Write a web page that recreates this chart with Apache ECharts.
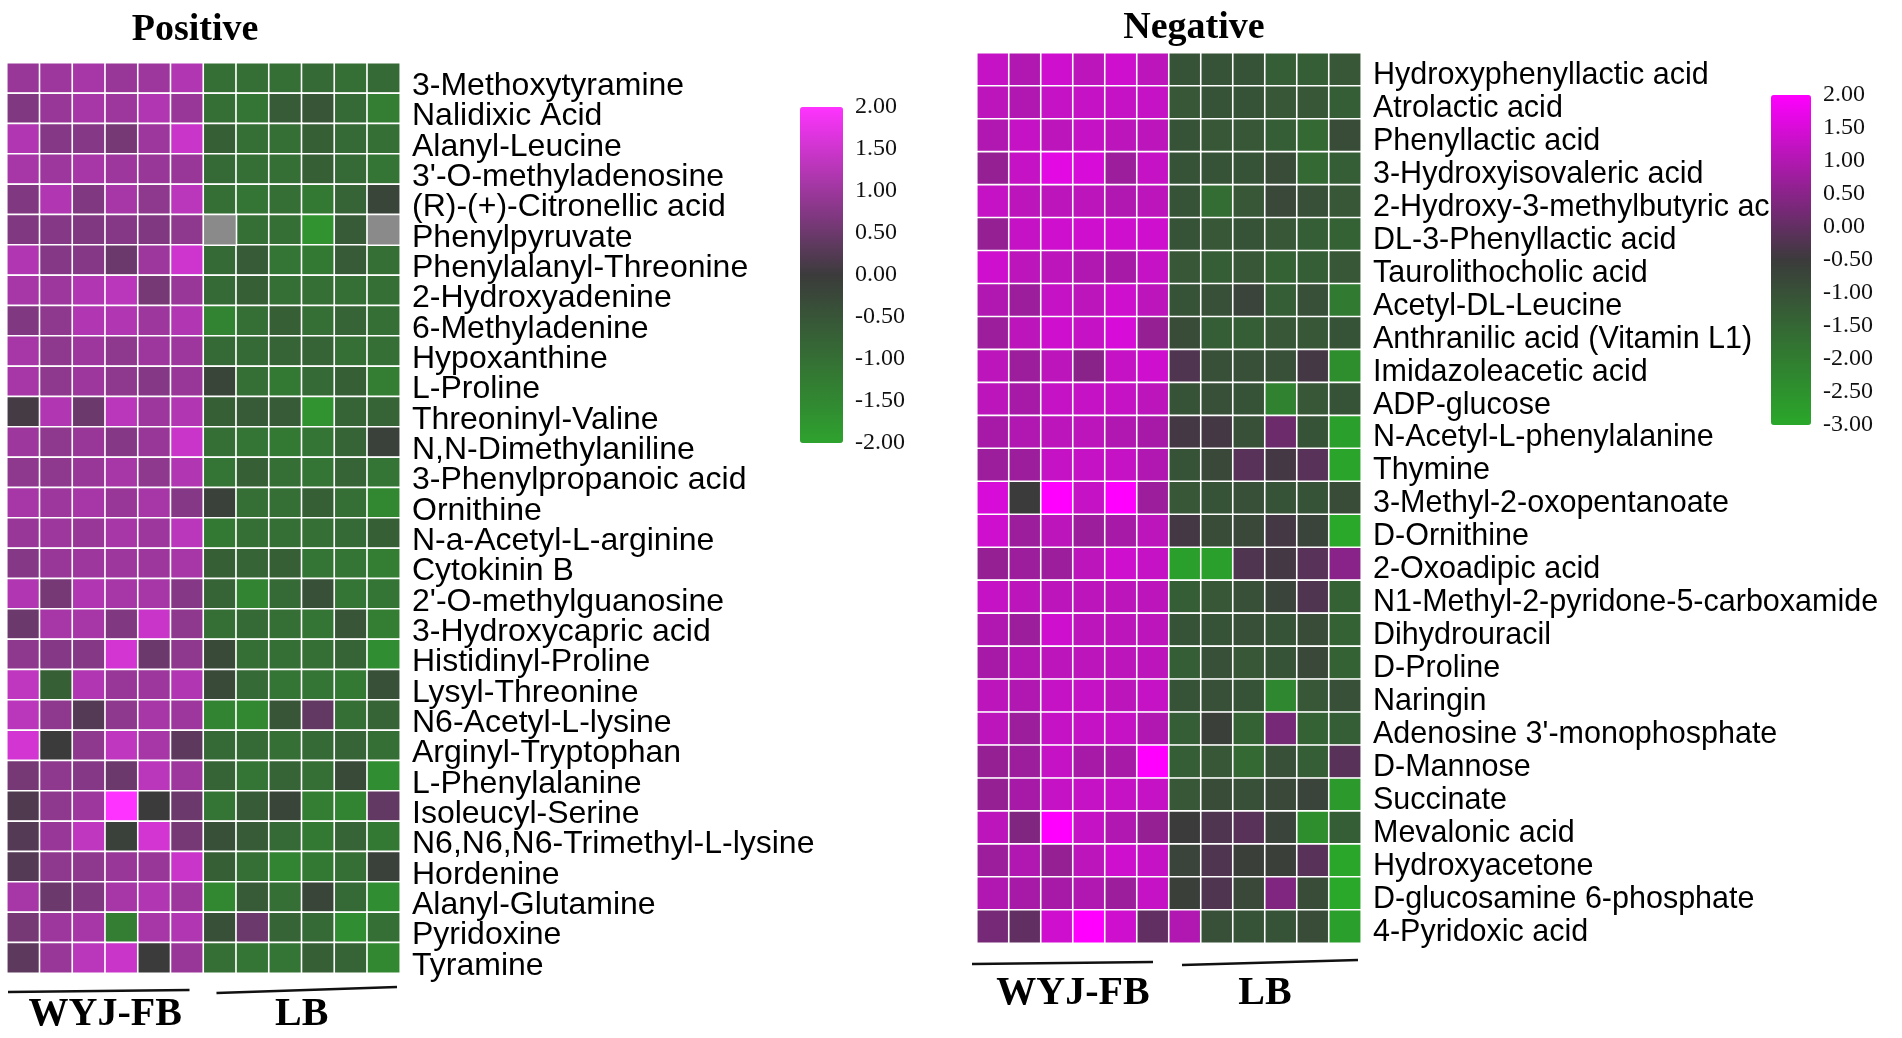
<!DOCTYPE html>
<html><head><meta charset="utf-8">
<script src="https://cdn.jsdelivr.net/npm/echarts@6/dist/echarts.min.js"></script>
<style>html,body{margin:0;padding:0;background:#fff}#c{width:1902px;height:1038px}</style>
</head><body><div id="c"></div>
<script>
// ---------- DATA ----------
const samples = ['WYJ-FB-1','WYJ-FB-2','WYJ-FB-3','WYJ-FB-4','WYJ-FB-5','WYJ-FB-6','LB-1','LB-2','LB-3','LB-4','LB-5','LB-6'];
const groups = ['WYJ-FB','LB'];

const posNames = ['3-Methoxytyramine','Nalidixic Acid','Alanyl-Leucine',"3'-O-methyladenosine",'(R)-(+)-Citronellic acid','Phenylpyruvate','Phenylalanyl-Threonine','2-Hydroxyadenine','6-Methyladenine','Hypoxanthine','L-Proline','Threoninyl-Valine','N,N-Dimethylaniline','3-Phenylpropanoic acid','Ornithine','N-a-Acetyl-L-arginine','Cytokinin B',"2'-O-methylguanosine",'3-Hydroxycapric acid','Histidinyl-Proline','Lysyl-Threonine','N6-Acetyl-L-lysine','Arginyl-Tryptophan','L-Phenylalanine','Isoleucyl-Serine','N6,N6,N6-Trimethyl-L-lysine','Hordenine','Alanyl-Glutamine','Pyridoxine','Tyramine'];

// null = missing value (drawn grey)
const posValues = [
 [0.95,1.0,1.1,0.95,1.0,1.2,-1.0,-1.0,-1.0,-0.9,-1.0,-0.9],
 [0.7,0.95,1.1,1.0,1.2,0.95,-1.0,-1.1,-0.6,-0.5,-0.9,-1.3],
 [1.2,0.75,0.75,0.6,1.0,1.45,-0.7,-1.0,-1.0,-0.7,-0.9,-1.0],
 [1.1,1.0,1.1,1.0,0.95,0.95,-0.9,-1.0,-1.0,-0.7,-0.9,-1.1],
 [0.7,1.2,0.7,1.1,0.85,1.3,-1.0,-1.1,-1.0,-1.2,-0.8,-0.2],
 [0.7,0.75,0.7,0.75,0.7,0.85,null,-1.0,-1.0,-1.7,-0.6,null],
 [1.2,0.75,0.75,0.5,1.0,1.5,-0.9,-0.6,-1.1,-1.2,-0.6,-1.0],
 [1.1,1.0,1.2,1.3,0.6,0.95,-0.9,-0.7,-1.0,-1.0,-1.0,-1.0],
 [0.7,0.85,1.2,1.2,1.0,1.2,-1.4,-1.0,-0.7,-1.0,-0.8,-1.0],
 [1.1,0.85,1.0,0.85,1.0,1.0,-0.9,-0.9,-0.8,-0.8,-1.0,-1.0],
 [1.1,0.85,1.0,0.85,0.75,0.95,-0.2,-1.0,-1.2,-0.9,-0.7,-1.3],
 [0.1,1.2,0.5,1.3,1.0,1.2,-0.7,-0.6,-0.6,-1.7,-0.8,-0.8],
 [1.0,0.85,0.95,0.75,0.95,1.45,-1.0,-1.1,-1.2,-1.1,-0.8,-0.1],
 [0.85,0.85,0.95,1.1,0.85,1.2,-1.1,-0.7,-1.0,-1.1,-0.8,-1.1],
 [1.1,1.0,1.1,0.95,1.1,0.75,-0.1,-1.0,-1.0,-0.7,-1.0,-1.5],
 [0.95,1.0,0.95,1.1,1.0,1.3,-1.2,-1.0,-1.0,-1.0,-0.9,-0.7],
 [0.75,0.95,1.0,1.0,1.0,1.1,-0.7,-0.8,-0.7,-1.1,-1.1,-1.3],
 [1.2,0.6,1.2,1.1,1.1,0.75,-0.8,-1.4,-0.9,-0.4,-1.1,-1.1],
 [0.5,1.1,1.1,0.7,1.45,0.85,-1.0,-0.9,-1.0,-1.1,-0.5,-1.3],
 [0.85,0.75,0.75,1.55,0.5,0.85,-0.3,-1.0,-1.0,-1.0,-0.8,-1.6],
 [1.35,-0.7,1.2,0.95,1.0,1.2,-0.3,-0.9,-1.1,-1.1,-1.2,-0.4],
 [1.3,0.85,0.25,0.85,1.1,1.0,-1.4,-1.5,-0.5,0.4,-1.0,-0.8],
 [1.55,0.0,0.85,1.35,1.1,0.35,-0.9,-0.9,-1.0,-0.9,-0.8,-1.0],
 [0.6,0.85,0.75,0.5,1.3,1.0,-0.8,-1.1,-0.8,-1.0,-0.3,-1.6],
 [0.2,0.85,1.0,2.0,0.0,0.5,-1.1,-0.6,-0.2,-1.3,-1.4,0.4],
 [0.25,0.95,1.35,-0.1,1.55,0.6,-0.4,-0.6,-0.9,-1.2,-0.8,-1.2],
 [0.25,0.85,0.85,0.95,0.95,1.45,-0.7,-1.0,-1.4,-1.2,-1.0,-0.1],
 [1.1,0.5,0.7,1.1,1.2,1.0,-1.5,-0.6,-1.0,-0.2,-0.9,-1.6],
 [0.6,1.0,1.1,-1.3,1.1,1.2,-0.4,0.5,-0.8,-0.9,-1.6,-1.0],
 [0.35,0.95,1.3,1.45,0.0,0.95,-1.0,-1.1,-1.1,-0.7,-0.8,-1.5]
];

const negNames = ['Hydroxyphenyllactic acid','Atrolactic acid','Phenyllactic acid','3-Hydroxyisovaleric acid','2-Hydroxy-3-methylbutyric acid','DL-3-Phenyllactic acid','Taurolithocholic acid','Acetyl-DL-Leucine','Anthranilic acid (Vitamin L1)','Imidazoleacetic acid','ADP-glucose','N-Acetyl-L-phenylalanine','Thymine','3-Methyl-2-oxopentanoate','D-Ornithine','2-Oxoadipic acid','N1-Methyl-2-pyridone-5-carboxamide','Dihydrouracil','D-Proline','Naringin',"Adenosine 3'-monophosphate",'D-Mannose','Succinate','Mevalonic acid','Hydroxyacetone','D-glucosamine 6-phosphate','4-Pyridoxic acid'];

const negValues = [
 [1.25,1.0,1.38,1.13,1.38,1.13,-1.05,-1.05,-1.05,-1.3,-1.3,-1.15],
 [1.13,1.0,1.25,1.25,1.25,1.25,-1.15,-1.05,-1.05,-1.15,-1.15,-1.3],
 [1.0,1.25,1.13,1.25,1.13,1.13,-1.05,-1.15,-1.15,-1.3,-1.55,-0.9],
 [0.63,1.25,1.63,1.5,0.75,1.25,-1.05,-1.05,-1.05,-0.9,-1.55,-1.3],
 [1.25,1.13,1.13,1.13,1.0,1.13,-1.05,-1.65,-1.15,-0.8,-0.95,-1.15],
 [0.63,1.25,1.38,1.38,1.38,1.38,-1.05,-1.15,-1.05,-1.15,-1.3,-1.4],
 [1.38,1.13,1.13,1.0,0.88,1.25,-1.15,-1.3,-1.15,-1.4,-1.3,-1.15],
 [1.0,0.75,1.25,1.13,1.38,1.13,-1.05,-0.95,-0.7,-1.3,-0.95,-1.95],
 [0.75,1.13,1.38,1.25,1.5,0.63,-0.9,-1.3,-1.3,-1.15,-1.15,-1.05],
 [1.13,0.75,1.13,0.5,1.25,1.38,-0.25,-0.95,-0.95,-0.95,-0.38,-2.4],
 [1.13,0.88,1.25,1.25,1.25,1.13,-1.05,-0.95,-1.05,-2.1,-1.15,-1.05],
 [0.88,1.0,1.13,1.13,1.0,0.88,-0.38,-0.38,-0.95,0.13,-1.05,-2.8],
 [0.75,0.75,1.25,1.25,1.25,1.0,-1.05,-0.8,-0.13,-0.38,-0.13,-2.9],
 [1.5,-0.5,2.0,1.25,2.0,0.75,-1.15,-1.05,-0.95,-1.05,-1.05,-0.9],
 [1.38,0.75,1.13,0.75,0.88,1.13,-0.38,-0.9,-0.8,-0.38,-0.7,-3.0],
 [0.63,0.75,0.75,1.13,1.38,1.25,-2.8,-2.8,-0.25,-0.38,-0.13,0.5],
 [1.25,1.13,1.13,1.13,1.13,1.13,-1.3,-1.15,-0.95,-0.7,-0.25,-1.4],
 [1.0,0.75,1.38,1.13,1.13,1.13,-1.05,-1.05,-0.95,-1.05,-0.9,-1.4],
 [0.88,1.0,1.13,1.13,1.13,1.13,-1.3,-0.95,-1.15,-1.05,-0.8,-1.4],
 [1.13,1.0,1.25,1.25,1.13,1.25,-1.05,-0.95,-1.05,-2.25,-1.15,-0.95],
 [1.13,0.75,1.25,1.25,1.25,1.0,-1.3,-0.6,-1.4,0.25,-1.4,-1.3],
 [0.63,0.75,1.25,0.88,0.88,2.0,-1.3,-1.15,-1.55,-0.95,-1.3,-0.13],
 [0.63,0.88,1.25,1.25,1.25,1.25,-1.15,-0.9,-0.95,-0.8,-0.7,-2.65],
 [1.13,0.38,2.0,1.25,1.0,0.63,-0.5,-0.25,-0.13,-0.7,-2.4,-1.3],
 [0.75,1.0,0.63,1.13,1.38,1.25,-0.7,-0.25,-0.6,-0.6,-0.13,-2.95],
 [1.0,0.88,0.88,1.0,0.75,1.25,-0.6,-0.25,-0.8,0.38,-0.9,-3.0],
 [0.25,0.0,1.38,2.0,1.38,0.0,1.0,-0.95,-1.05,-1.05,-0.9,-2.8]
];

const posRange = [-2, 2];
const negRange = [-3, 2];
const legendStep = 0.5;

// ---------- BUILD ----------
function cells(values) {
  const ok = [], miss = [];
  values.forEach((row, r) => row.forEach((v, c) => {
    if (v === null) miss.push([c, r, 0]); else ok.push([c, r, v]);
  }));
  return { ok, miss };
}
const pos = cells(posValues);
const neg = cells(negValues);

// layout
const G0 = { left: 7, top: 63, width: 393, height: 910 };
const G1 = { left: 977, top: 53, width: 384, height: 890 };
const L0 = { left: 800, top: 107, width: 43, height: 336 };
const L1 = { left: 1771, top: 95, width: 40, height: 330 };

const sans = 'Liberation Sans, Arial, sans-serif';
const serif = 'Liberation Serif, Times New Roman, serif';

const chart = echarts.init(document.getElementById('c'), null, { renderer: 'canvas' });

function hiddenAxis(type, gi, data) {
  const a = { type, gridIndex: gi, show: false };
  if (data) a.data = data;
  return a;
}

const option = {
  backgroundColor: '#ffffff',
  animation: false,
  title: [
    { text: 'Positive', left: 195, top: 11, textAlign: 'center', padding: 0,
      textStyle: { fontFamily: serif, fontWeight: 'bold', fontSize: 38, color: '#000' } },
    { text: 'Negative', left: 1194, top: 9, textAlign: 'center', padding: 0,
      textStyle: { fontFamily: serif, fontWeight: 'bold', fontSize: 38, color: '#000' } }
  ],
  grid: [
    Object.assign({}, G0), Object.assign({}, G1),
    Object.assign({}, L0), Object.assign({}, L1)
  ],
  xAxis: [
    hiddenAxis('category', 0, samples),
    hiddenAxis('category', 1, samples),
    { type: 'category', gridIndex: 0, data: groups, position: 'bottom',
      axisLine: { show: false }, axisTick: { show: false }, splitLine: { show: false },
      axisLabel: { interval: 0, margin: 22, fontFamily: serif, fontWeight: 'bold', fontSize: 40, color: '#000' } },
    { type: 'category', gridIndex: 1, data: groups, position: 'bottom',
      axisLine: { show: false }, axisTick: { show: false }, splitLine: { show: false },
      axisLabel: { interval: 0, margin: 31, fontFamily: serif, fontWeight: 'bold', fontSize: 40, color: '#000' } },
    { type: 'value', gridIndex: 2, show: false, min: 0, max: 1 },
    { type: 'value', gridIndex: 3, show: false, min: 0, max: 1 }
  ],
  yAxis: [
    { type: 'category', gridIndex: 0, data: posNames, inverse: true, position: 'right',
      axisLine: { show: false }, axisTick: { show: false }, splitLine: { show: false },
      axisLabel: { interval: 0, margin: 12, verticalAlign: 'top', lineHeight: 16, fontFamily: sans, fontSize: 32, color: '#000' } },
    { type: 'category', gridIndex: 1, data: negNames, inverse: true, position: 'right',
      axisLine: { show: false }, axisTick: { show: false }, splitLine: { show: false },
      axisLabel: { interval: 0, margin: 12, verticalAlign: 'top', lineHeight: 12, fontFamily: sans, fontSize: 30.5, color: '#000' } },
    { type: 'value', gridIndex: 2, min: posRange[0], max: posRange[1], interval: legendStep, position: 'right',
      axisLine: { show: false }, axisTick: { show: false }, splitLine: { show: false },
      axisLabel: { margin: 12, fontFamily: serif, fontSize: 24, color: '#111', formatter: v => v.toFixed(2) } },
    { type: 'value', gridIndex: 3, min: negRange[0], max: negRange[1], interval: legendStep, position: 'right',
      axisLine: { show: false }, axisTick: { show: false }, splitLine: { show: false },
      axisLabel: { margin: 12, fontFamily: serif, fontSize: 24, color: '#111', formatter: v => v.toFixed(2) } }
  ],
  visualMap: [
    { type: 'continuous', seriesIndex: 0, min: posRange[0], max: posRange[1], calculable: false,
      orient: 'vertical', left: L0.left, top: L0.top, itemWidth: L0.width, itemHeight: L0.height,
      padding: 0, showLabel: false, hoverLink: false,
      inRange: { color: ['#2ea22e', '#3b3b3b', '#ff33ff'] } },
    { type: 'continuous', seriesIndex: 2, min: negRange[0], max: negRange[1], calculable: false,
      orient: 'vertical', left: L1.left, top: L1.top, itemWidth: L1.width, itemHeight: L1.height,
      padding: 0, showLabel: false, hoverLink: false,
      inRange: { color: ['#2aa82a', '#3b3b3b', '#ff00ff'] } }
  ],
  series: [
    { type: 'heatmap', xAxisIndex: 0, yAxisIndex: 0, data: pos.ok,
      itemStyle: { borderColor: '#ffffff', borderWidth: 1.6 } },
    { type: 'heatmap', xAxisIndex: 0, yAxisIndex: 0, data: pos.miss,
      itemStyle: { color: '#8a8a8a', borderColor: '#ffffff', borderWidth: 1.6 } },
    { type: 'heatmap', xAxisIndex: 1, yAxisIndex: 1, data: neg.ok,
      itemStyle: { borderColor: '#ffffff', borderWidth: 1.6 } },
    { type: 'line', xAxisIndex: 4, yAxisIndex: 2, data: [], silent: true },
    { type: 'line', xAxisIndex: 5, yAxisIndex: 3, data: [], silent: true }
  ],
  graphic: (function () {
    const line = (x1, y1, x2, y2) => ({ type: 'line', silent: true,
      shape: { x1, y1, x2, y2 }, style: { stroke: '#111', lineWidth: 2.5 } });
    const cw0 = G0.width / 12, cw1 = G1.width / 12;
    const b0 = G0.top + G0.height, b1 = G1.top + G1.height;
    return [
      line(G0.left + 1, b0 + 19, G0.left + 6 * cw0 - 14, b0 + 17),
      line(G0.left + 6 * cw0 + 13, b0 + 20, G0.left + 12 * cw0 - 3, b0 + 14),
      line(G1.left - 5, b1 + 21, G1.left + 6 * cw1 - 16, b1 + 19),
      line(G1.left + 6 * cw1 + 13, b1 + 22, G1.left + 12 * cw1 - 3, b1 + 17)
    ];
  })()
};
chart.setOption(option);
</script>
</body></html>
